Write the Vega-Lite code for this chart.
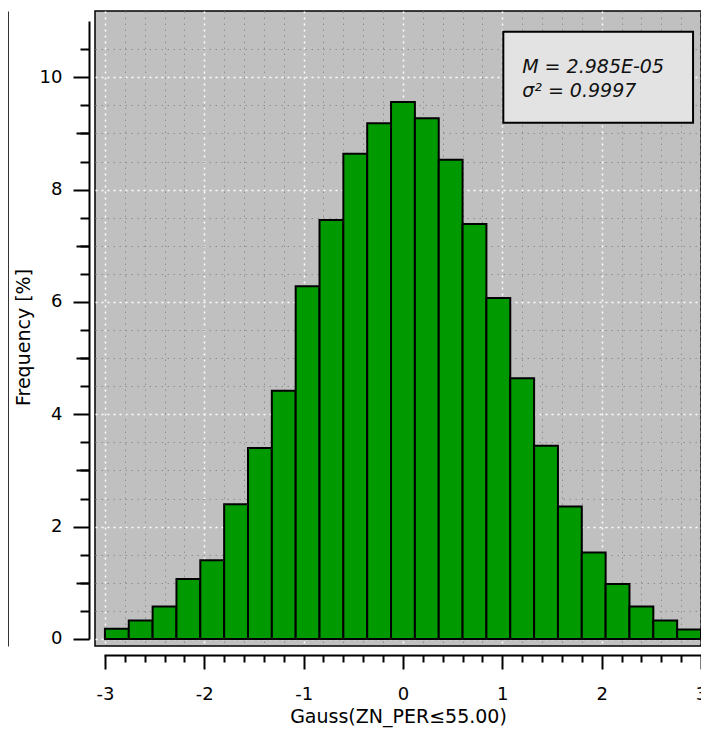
{
  "$schema": "https://vega.github.io/schema/vega-lite/v6.json",
  "width": 606,
  "height": 635,
  "autosize": {"type": "none"},
  "padding": {"left": 95, "top": 11, "right": 0, "bottom": 83},
  "background": "#ffffff",
  "config": {
    "view": {"fill": "#c0c0c0", "stroke": "#000000", "strokeWidth": 1.5},
    "axis": {"labelFont": "DejaVu Sans", "titleFont": "DejaVu Sans"},
    "text": {"font": "DejaVu Sans"}
  },
  "datasets": {
    "histogram": [
      {"bin_start": -3.0, "bin_end": -2.76, "freq": 0.18},
      {"bin_start": -2.76, "bin_end": -2.52, "freq": 0.33},
      {"bin_start": -2.52, "bin_end": -2.28, "freq": 0.58},
      {"bin_start": -2.28, "bin_end": -2.04, "freq": 1.07},
      {"bin_start": -2.04, "bin_end": -1.8, "freq": 1.40},
      {"bin_start": -1.8, "bin_end": -1.56, "freq": 2.40},
      {"bin_start": -1.56, "bin_end": -1.32, "freq": 3.40},
      {"bin_start": -1.32, "bin_end": -1.08, "freq": 4.42},
      {"bin_start": -1.08, "bin_end": -0.84, "freq": 6.28},
      {"bin_start": -0.84, "bin_end": -0.6, "freq": 7.46},
      {"bin_start": -0.6, "bin_end": -0.36, "freq": 8.64},
      {"bin_start": -0.36, "bin_end": -0.12, "freq": 9.18},
      {"bin_start": -0.12, "bin_end": 0.12, "freq": 9.56},
      {"bin_start": 0.12, "bin_end": 0.36, "freq": 9.27},
      {"bin_start": 0.36, "bin_end": 0.6, "freq": 8.53},
      {"bin_start": 0.6, "bin_end": 0.84, "freq": 7.39},
      {"bin_start": 0.84, "bin_end": 1.08, "freq": 6.07},
      {"bin_start": 1.08, "bin_end": 1.32, "freq": 4.64},
      {"bin_start": 1.32, "bin_end": 1.56, "freq": 3.44},
      {"bin_start": 1.56, "bin_end": 1.8, "freq": 2.36},
      {"bin_start": 1.8, "bin_end": 2.04, "freq": 1.54},
      {"bin_start": 2.04, "bin_end": 2.28, "freq": 0.98},
      {"bin_start": 2.28, "bin_end": 2.52, "freq": 0.58},
      {"bin_start": 2.52, "bin_end": 2.76, "freq": 0.33},
      {"bin_start": 2.76, "bin_end": 3.0, "freq": 0.17}
    ],
    "stats": [
      {"lines": ["M = 2.985E-05", "σ² = 0.9997"]}
    ]
  },
  "data": {"name": "histogram"},
  "layer": [
    {
      "description": "minor ticks and grey dotted grid",
      "mark": {"type": "bar", "opacity": 0},
      "encoding": {
        "x": {
          "field": "bin_start", "type": "quantitative",
          "scale": {"domain": [-3.1, 3.0], "nice": false, "zero": false},
          "axis": {
            "orient": "bottom", "offset": 9, "title": null, "labels": false, "domain": false,
            "values": [-2.8, -2.6, -2.4, -2.2, -1.8, -1.6, -1.4, -1.2, -0.8, -0.6, -0.4, -0.2, 0.2, 0.4, 0.6, 0.8, 1.2, 1.4, 1.6, 1.8, 2.2, 2.4, 2.6, 2.8],
            "ticks": true, "tickSize": 7, "tickWidth": 2, "tickColor": "#000000",
            "grid": true, "gridColor": "#8f8f8f", "gridWidth": 1, "gridDash": [1.5, 4.5]
          }
        },
        "x2": {"field": "bin_end"},
        "y": {
          "field": "freq", "type": "quantitative",
          "scale": {"domain": [-0.125, 11.18], "nice": false, "zero": false},
          "axis": {
            "orient": "left", "offset": 6, "title": null, "labels": false, "domain": false,
            "values": [0.5, 1, 1.5, 2.5, 3, 3.5, 4.5, 5, 5.5, 6.5, 7, 7.5, 8.5, 9, 9.5, 10.5],
            "ticks": true, "tickSize": 9, "tickWidth": 2, "tickColor": "#000000",
            "grid": true, "gridColor": "#8f8f8f", "gridWidth": 1, "gridDash": [1.5, 4.5]
          }
        },
        "y2": {"datum": 0}
      }
    },
    {
      "description": "medium ticks at odd integers",
      "mark": {"type": "bar", "opacity": 0},
      "encoding": {
        "x": {
          "field": "bin_start", "type": "quantitative",
          "scale": {"domain": [-3.1, 3.0], "nice": false, "zero": false},
          "axis": null
        },
        "x2": {"field": "bin_end"},
        "y": {
          "field": "freq", "type": "quantitative",
          "scale": {"domain": [-0.125, 11.18], "nice": false, "zero": false},
          "axis": {
            "orient": "left", "offset": 6, "title": null, "labels": false, "domain": false,
            "values": [1, 3, 5, 7, 9],
            "ticks": true, "tickSize": 13, "tickWidth": 2, "tickColor": "#000000",
            "grid": false
          }
        },
        "y2": {"datum": 0}
      }
    },
    {
      "description": "outer panel edge",
      "mark": {"type": "bar", "opacity": 0},
      "encoding": {
        "x": {
          "field": "bin_start", "type": "quantitative",
          "scale": {"domain": [-3.1, 3.0], "nice": false, "zero": false},
          "axis": null
        },
        "x2": {"field": "bin_end"},
        "y": {
          "field": "freq", "type": "quantitative",
          "scale": {"domain": [-0.125, 11.18], "nice": false, "zero": false},
          "axis": {
            "orient": "left", "offset": 87, "title": null, "labels": false, "ticks": false,
            "grid": false, "domain": true, "domainColor": "#333333", "domainWidth": 1
          }
        },
        "y2": {"datum": 0}
      }
    },
    {
      "description": "histogram bars with the main axes",
      "mark": {"type": "bar", "fill": "#009900", "stroke": "#000000", "strokeWidth": 2},
      "encoding": {
        "x": {
          "field": "bin_start", "type": "quantitative",
          "scale": {"domain": [-3.1, 3.0], "nice": false, "zero": false},
          "axis": {
            "orient": "bottom", "offset": 9,
            "values": [-3, -2, -1, 0, 1, 2, 3],
            "labelExpr": "'' + datum.value",
            "domain": true, "domainColor": "#000000", "domainWidth": 2, "domainDash": [0, 9, 2000],
            "ticks": true, "tickSize": 14, "tickWidth": 2, "tickColor": "#000000",
            "labelFontSize": 18, "labelColor": "#000000", "labelPadding": 16,
            "labelFlush": false, "labelOverlap": false, "labelBound": false,
            "grid": true, "gridColor": "#ffffff", "gridWidth": 1.5, "gridDash": [2, 4],
            "title": "Gauss(ZN_PER≤55.00)", "titleFontSize": 19, "titleFontWeight": "normal",
            "titleColor": "#000000", "titleBaseline": "alphabetic", "titleY": 67
          }
        },
        "x2": {"field": "bin_end"},
        "y": {
          "field": "freq", "type": "quantitative",
          "scale": {"domain": [-0.125, 11.18], "nice": false, "zero": false},
          "axis": {
            "orient": "left", "offset": 6,
            "values": [0, 2, 4, 6, 8, 10],
            "labelExpr": "'' + datum.value",
            "domain": true, "domainColor": "#000000", "domainWidth": 2, "domainDash": [0, 7, 618, 2000],
            "ticks": true, "tickSize": 16, "tickWidth": 2, "tickColor": "#000000",
            "labelFontSize": 18, "labelColor": "#000000", "labelPadding": 11,
            "labelFlush": false, "labelOverlap": false, "labelBound": false,
            "grid": true, "gridColor": "#ffffff", "gridWidth": 1.5, "gridDash": [2, 4],
            "title": "Frequency [%]", "titleFontSize": 19, "titleFontWeight": "normal",
            "titleColor": "#000000", "titleAngle": 270, "titleAlign": "center",
            "titleBaseline": "alphabetic", "titleX": -60, "titleY": 326
          }
        },
        "y2": {"datum": 0}
      }
    },
    {
      "description": "statistics box",
      "data": {"name": "stats"},
      "mark": {"type": "rect", "fill": "#e3e3e3", "stroke": "#000000", "strokeWidth": 2},
      "encoding": {
        "x": {"datum": 1.01, "type": "quantitative", "scale": {"domain": [-3.1, 3.0], "nice": false, "zero": false}, "axis": null},
        "x2": {"datum": 2.92},
        "y": {"datum": 10.81, "type": "quantitative", "scale": {"domain": [-0.125, 11.18], "nice": false, "zero": false}, "axis": null},
        "y2": {"datum": 9.19}
      }
    },
    {
      "description": "statistics text",
      "data": {"name": "stats"},
      "mark": {"type": "text", "align": "left", "baseline": "alphabetic", "fontStyle": "italic", "fontSize": 19, "lineHeight": 24, "color": "#111111"},
      "encoding": {
        "x": {"datum": 1.2, "type": "quantitative", "scale": {"domain": [-3.1, 3.0], "nice": false, "zero": false}, "axis": null},
        "y": {"datum": 10.08, "type": "quantitative", "scale": {"domain": [-0.125, 11.18], "nice": false, "zero": false}, "axis": null},
        "text": {"field": "lines", "type": "nominal"}
      }
    }
  ],
  "resolve": {"axis": {"x": "independent", "y": "independent"}}
}
